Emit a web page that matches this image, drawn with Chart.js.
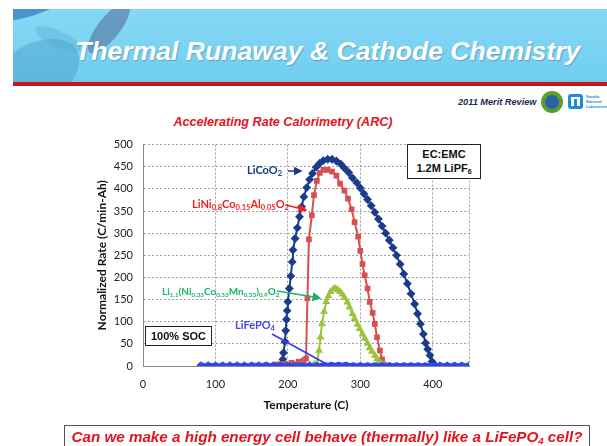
<!DOCTYPE html>
<html>
<head>
<meta charset="utf-8">
<script src="https://cdn.jsdelivr.net/npm/chart.js@4/dist/chart.umd.min.js"></script>
<style>
  html,body{margin:0;padding:0;}
  body{width:607px;height:446px;position:relative;overflow:hidden;background:#fff;font-family:"Liberation Sans",Arial,sans-serif;}
  .abs{position:absolute;}
  #banner{left:13px;top:9px;width:594px;height:73px;overflow:hidden;
    background:linear-gradient(180deg,#86d8f4 0%,#79d2f1 60%,#6fcdee 100%);}
  #redbar{left:13px;top:82px;width:594px;height:4px;background:#c8151b;}
  #title{left:75px;top:36px;color:#fff;font:italic bold 26.6px "Liberation Sans",Arial,sans-serif;white-space:nowrap;text-shadow:1px 1px 1px rgba(60,120,160,0.5);}
  .sw{position:absolute;border-radius:50%;}
  #merit{left:458px;top:97px;font:italic bold 9.2px "Liberation Sans",Arial,sans-serif;color:#1f2a55;white-space:nowrap;}
  #charttitle{left:130px;width:306px;top:115px;text-align:center;color:#e3141c;font:italic bold 12.6px "Liberation Sans",Arial,sans-serif;white-space:nowrap;}
  #chartbox{left:90px;top:128px;width:400px;height:295px;}
  .lbl{position:absolute;font:bold 11px Lato,"Open Sans",sans-serif;white-space:nowrap;line-height:12px;}
  .lbl sub{font-size:7.5px;vertical-align:-2px;line-height:0;}
  .lbl.small{font-size:10px;}
  .lbl.small sub{font-size:6.3px;}
  .box{position:absolute;background:#fff;border:1.5px solid #222;font:bold 11px "Liberation Sans",Arial,sans-serif;color:#111;text-align:center;}
  #question{left:64px;top:425px;width:524px;height:24px;border:1px solid #555;background:#fff;}
  #question div{position:absolute;left:0;right:0;top:2px;text-align:center;color:#e3141c;font:italic bold 15.2px "Liberation Sans",Arial,sans-serif;white-space:nowrap;}
  #question sub{font-size:9.5px;vertical-align:-2px;line-height:0;}
</style>
</head>
<body>
<div id="banner" class="abs">
  <div class="sw" style="left:-20px;top:-22px;width:90px;height:26px;background:rgba(40,100,180,0.6);transform:rotate(-22deg);"></div>
  <div class="sw" style="left:85px;top:-12px;width:22px;height:62px;background:rgba(80,105,150,0.55);transform:rotate(38deg);"></div>
  <div class="sw" style="left:-25px;top:35px;width:95px;height:60px;background:rgba(70,150,195,0.4);transform:rotate(-30deg);"></div>
  <div class="sw" style="left:20px;top:22px;width:50px;height:16px;background:rgba(90,165,205,0.35);transform:rotate(25deg);"></div>
</div>
<div id="redbar" class="abs"></div>
<div id="title" class="abs">Thermal Runaway &amp; Cathode Chemistry</div>

<div id="merit" class="abs">2011 Merit Review</div>
<div class="abs" style="left:541px;top:91px;width:22px;height:22px;border-radius:50%;background:#5aa02c;"></div>
<div class="abs" style="left:545px;top:95px;width:14px;height:14px;border-radius:50%;background:#2f5fa8;"></div>
<div class="abs" style="left:568px;top:94px;width:15px;height:15px;border-radius:3px;background:#1d8fd0;"></div>
<div class="abs" style="left:571px;top:97px;width:9px;height:9px;background:#fff;"></div>
<div class="abs" style="left:574px;top:99px;width:3px;height:7px;background:#1d8fd0;"></div>
<div class="abs" style="left:586px;top:94px;font:bold 4px Arial;color:#1d8fd0;line-height:5px;">Sandia<br>National<br>Laboratories</div>

<div id="charttitle" class="abs">Accelerating Rate Calorimetry (ARC)</div>

<div id="chartbox" class="abs"><canvas id="c" width="400" height="295"></canvas></div>

<svg class="abs" style="left:0;top:0;" width="607" height="446">
  <defs>
    <marker id="hN" markerWidth="6" markerHeight="6" refX="5" refY="3" orient="auto"><path d="M0,0 L6,3 L0,6 z" fill="#1b3a7c"/></marker>
    <marker id="hR" markerWidth="6" markerHeight="6" refX="5" refY="3" orient="auto"><path d="M0,0 L6,3 L0,6 z" fill="#ee2222"/></marker>
    <marker id="hG" markerWidth="6" markerHeight="6" refX="5" refY="3" orient="auto"><path d="M0,0 L6,3 L0,6 z" fill="#19b36b"/></marker>
  </defs>
  <line x1="288" y1="171" x2="301" y2="171" stroke="#1b3a7c" stroke-width="1.5" marker-end="url(#hN)"/>
  <line x1="286" y1="205" x2="306" y2="210" stroke="#ee2222" stroke-width="1.5" marker-end="url(#hR)"/>
  <line x1="277" y1="291" x2="320" y2="298" stroke="#19b36b" stroke-width="1.5" marker-end="url(#hG)"/>
  <line x1="272" y1="334" x2="330" y2="366" stroke="#3a40ee" stroke-width="1.8"/>
</svg>

<div class="lbl" style="left:247px;top:164px;color:#1b3a7c;">LiCoO<sub>2</sub></div>
<div class="lbl" style="left:192px;top:198px;color:#ee2222;">LiNi<sub>0.8</sub>Co<sub>0.15</sub>Al<sub>0.05</sub>O<sub>2</sub></div>
<div class="lbl small" style="left:162px;top:285px;color:#19b36b;">Li<sub>1.1</sub>(Ni<sub>0.33</sub>Co<sub>0.33</sub>Mn<sub>0.33</sub>)<sub>0.9</sub>O<sub>2</sub></div>
<div class="lbl" style="left:235px;top:319px;color:#4646ee;">LiFePO<sub>4</sub></div>

<div class="box" style="left:145px;top:326px;width:65px;height:18px;line-height:18px;">100% SOC</div>
<div class="box" style="left:407px;top:144px;width:72px;height:33px;line-height:14px;padding-top:2px;box-sizing:content-box;height:31px;">EC:EMC<br>1.2M LiPF<sub style="font-size:7px;vertical-align:-2px;line-height:0;">6</sub></div>

<div id="question" class="abs"><div>Can we make a high energy cell behave (thermally) like a LiFePO<sub>4</sub> cell?</div></div>

<script>
// ---- data ----
const xTickLabels = [0, 100, 200, 300, 400];
const yTickLabels = [0, 50, 100, 150, 200, 250, 300, 350, 400, 450, 500];

const tempLiCoO2 = [80,90,100,110,120,130,140,150,160,170,180,186,190,192,193,194,196,197,198,199,200,202,204,206,207,210,213,216,219,222,226,230,234,239,244,249,255,261,267,273,278,284,289,295,300,305,310,315,320,325,330,335,340,345,350,355,360,365,370,375,379,383,387,390,393,396,399,401,404,410,420,430,440,450];
const rateLiCoO2 = [1,1,1,1,1,1,1,1,1,1,1,1,2,6,15,30,55,80,105,125,145,175,203,235,262,288,312,337,360,382,403,421,435,449,458,464,467,467,463,456,447,437,425,414,402,389,376,362,347,332,316,300,284,267,250,230,208,186,163,140,118,95,72,52,38,24,10,3,0,0,0,0,0,0];

const tempNCA = [80,95,110,125,140,155,170,185,195,205,215,222,225,227,229,233,236,240,244,249,255,261,267,272,278,283,288,292,297,300,303,306,310,313,317,320,323,327,330,332,335,340];
const rateNCA = [0,0,0,0,0,1,2,3,5,7,10,13,17,153,286,340,386,418,436,443,443,439,430,412,396,378,354,325,292,260,230,205,175,145,120,95,65,35,15,4,0,0];

const tempNMC = [80,90,100,110,120,130,140,150,160,170,180,190,200,210,220,230,236,240,243,245,247,250,253,256,259,263,266,269,272,275,278,282,285,289,292,296,299,303,306,310,313,316,320,323,326,330,333,336,340];
const rateNMC = [1,1,1,1,1,2,2,1,1,1,1,1,1,2,2,3,4,6,35,65,95,123,145,158,168,174,175,172,168,162,155,144,133,118,107,94,84,72,62,51,41,33,24,16,10,5,1,0,0];

const tempLFP = [80,90,100,110,120,130,140,150,160,170,180,190,200,210,220,230,240,250,260,270,280,290,300,310,320,330,340,350,360,370,380,390,400,410,420,430,440,450];
const rateLFP = [1,1,1,1,1,1,1,1,1,1,1,1,1,1,1,1,1,2,2,2,2,1,1,1,1,1,1,1,1,1,1,1,1,1,1,1,1,1];

function pts(t, r){ return t.map((v,i)=>({x:v, y:r[i]})); }

const ds = [
  {label:'LiFePO4', data:pts(tempLFP, rateLFP), borderColor:'#2f44f5', backgroundColor:'#2f44f5', borderWidth:4.5, pointStyle:'circle', pointRadius:1, order:0},
  {label:'NMC', data:pts(tempNMC, rateNMC), borderColor:'#9dc33c', backgroundColor:'#9dc33c', borderWidth:2, pointStyle:'triangle', pointRadius:2.6, order:1},
  {label:'NCA', data:pts(tempNCA, rateNCA), borderColor:'#d65050', backgroundColor:'#d65050', borderWidth:2, pointStyle:'rect', pointRadius:2.6, order:2},
  {label:'LiCoO2', data:pts(tempLiCoO2, rateLiCoO2), borderColor:'#1b3c8c', backgroundColor:'#1b3c8c', borderWidth:2, pointStyle:'rectRot', pointRadius:3, order:3}
];

new Chart(document.getElementById('c'), {
  type:'line',
  data:{datasets:ds},
  options:{
    responsive:false, animation:false, devicePixelRatio:1,
    layout:{padding:{top:11, right:21, left:0, bottom:0}},
    plugins:{legend:{display:false}, tooltip:{enabled:false}},
    elements:{line:{tension:0}, point:{borderWidth:0}},
    scales:{
      x:{type:'linear', min:0, max:450,
        afterFit(s){ s.height = 57; },
        ticks:{stepSize:100, padding:12, color:'#222', font:{family:'Lato', size:11},
          callback:(v)=> xTickLabels.includes(v) ? String(v) : ''},
        grid:{color:'#a0a0a0', drawTicks:false, lineWidth:1},
        border:{display:true, color:'#8a8a8a', dash:[2,2]},
        title:{display:true, text:'Temperature (C)', color:'#111', font:{family:'Lato', size:12, weight:'bold'}, padding:{top:0,bottom:11}}
      },
      y:{type:'linear', min:0, max:500,
        afterFit(s){ s.width = 53; },
        ticks:{stepSize:50, padding:10, color:'#222', font:{family:'Lato', size:11},
          callback:(v)=> yTickLabels.includes(v) ? String(v) : ''},
        grid:{color:'#a0a0a0', drawTicks:false, lineWidth:1},
        border:{display:true, color:'#8a8a8a', dash:[2,2]},
        title:{display:true, text:'Normalized Rate (C/min-Ah)', color:'#111', font:{family:'Lato', size:12, weight:'bold'}, padding:{top:5,bottom:0}}
      }
    }
  }
});
</script>
</body>
</html>
